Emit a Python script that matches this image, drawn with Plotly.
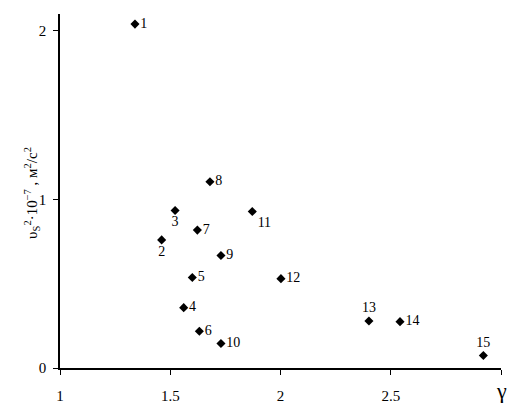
import plotly.graph_objects as go

# data
labels = ["1", "2", "3", "4", "5", "6", "7", "8", "9", "10", "11", "12", "13", "14", "15"]
gamma = [1.34, 1.461, 1.522, 1.561, 1.600, 1.632, 1.623, 1.680, 1.730, 1.730, 1.872, 2.002, 2.401, 2.542, 2.920]
v2 = [2.04, 0.760, 0.934, 0.358, 0.537, 0.218, 0.818, 1.105, 0.667, 0.145, 0.928, 0.530, 0.279, 0.275, 0.074]
x_ticks = [1, 1.5, 2, 2.5, 3]
x_ticktext = ["1", "1.5", "2", "2.5", ""]
y_ticks = [0, 1, 2]

# label placement (style)
text_pos = ["middle right", "bottom center", "bottom center", "middle right", "middle right",
            "middle right", "middle right", "middle right", "middle right", "middle right",
            "bottom right", "middle right", "top center", "middle right", "top center"]

FONT = "Liberation Serif, Times New Roman, serif"

fig = go.Figure()
fig.add_trace(go.Scatter(
    x=gamma, y=v2, text=labels, mode="markers+text",
    textposition=text_pos,
    textfont=dict(family=FONT, size=14, color="black"),
    marker=dict(symbol="diamond", size=7, color="black"),
    cliponaxis=False, showlegend=False,
))

# page body has an 8px default margin, so the figure is sized to fit the window
fig.update_layout(
    width=508, height=412,
    margin=dict(l=52, r=15, t=6, b=52),
    paper_bgcolor="white", plot_bgcolor="white",
    font=dict(family=FONT, size=14, color="black"),
    xaxis=dict(range=[1, 3], tickvals=x_ticks, ticktext=x_ticktext, automargin=False,
               showgrid=False, zeroline=False, showline=True, linecolor="black", linewidth=1.5,
               ticks="outside", ticklen=5, tickcolor="black", tickwidth=1,
               ticklabelstandoff=8, tickfont=dict(family=FONT, size=15)),
    yaxis=dict(range=[0, 2.1], tickvals=y_ticks, automargin=False,
               showgrid=False, zeroline=False, showline=True, linecolor="black", linewidth=1.5,
               ticks="outside", ticklen=5, tickcolor="black", tickwidth=1,
               ticklabelstandoff=4, tickfont=dict(family=FONT, size=15)),
)

fig.add_annotation(x=-0.064, y=0.494, xref="paper", yref="paper",
                   text="υ<sub>S</sub><sup>2</sup>·10<sup>−7</sup> , м<sup>2</sup>/с<sup>2</sup>",
                   textangle=-90, showarrow=False, xanchor="center", yanchor="middle",
                   font=dict(family=FONT, size=15, color="black"))

fig.add_annotation(x=1, y=0, xref="paper", yref="paper", text="γ", showarrow=False,
                   xanchor="center", yanchor="top", yshift=-8,
                   font=dict(family=FONT, size=22, color="black"))

fig.write_html("out.html")
